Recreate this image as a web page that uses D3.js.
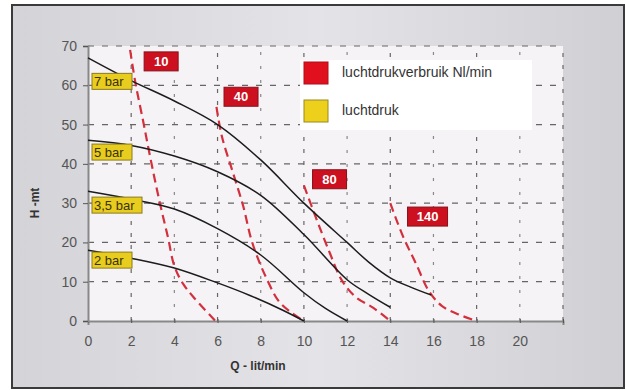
<html>
<head>
<script src="https://d3js.org/d3.v7.min.js"></script>
<style>
  body { margin: 0; background: #fff; }
  text { font-family: "Liberation Sans", Arial, sans-serif; }
</style>
</head>
<body>
<svg id="chart" width="626" height="390"></svg>
<script>
// pump curves: H (mt) against Q (lit/min) per air pressure
const pressureLabels = ['7 bar', '5 bar', '3,5 bar', '2 bar'];
const pressureLabelH = [61, 43, 29.5, 15.5];
const pressureCurves = [
  [[0, 67], [2, 61.2], [4, 56], [6, 50], [8, 41], [10, 30], [12, 20], [13, 15], [14, 11], [15, 8.5], [15.9, 6.6]],
  [[0, 46], [2, 44.7], [4, 42], [6, 38], [8, 32], [10, 22], [12, 10.5], [13, 6.8], [14, 3.5]],
  [[0, 33], [2, 31], [4, 28.5], [6, 23.5], [8, 16.8], [10, 7.2], [11, 3.2], [12, 0]],
  [[0, 18], [2, 16], [4, 13.5], [6, 9.7], [7.5, 6.5], [9, 2.8], [10, 0]]
];

// air consumption lines (Nl/min)
const airLabels = ['10', '40', '80', '140'];
const airCurves = [
  [[1.95, 69], [2.2, 60.5], [2.55, 51], [2.87, 42], [3.33, 30], [3.7, 21.4], [4.0, 14], [4.4, 9.5], [4.9, 6], [5.9, 0]],
  [[5.95, 54.5], [6.2, 47], [6.7, 38], [7.2, 29], [7.55, 21], [7.9, 15.5], [8.3, 10.5], [8.8, 5.3], [9.4, 2.2], [10, 0]],
  [[10, 34.5], [10.6, 25.7], [11.2, 17.3], [11.75, 10.4], [12.4, 6.1], [13.2, 3.4], [14, 0]],
  [[14, 30], [14.6, 21.4], [15.2, 14.5], [15.8, 7.5], [16.4, 3.8], [17.2, 1.6], [17.9, 0.2]]
];
const airLabelPos = [[2.6, 68.5], [6.3, 59.5], [10.4, 38.5], [14.8, 29]];

const xTicks = [0, 2, 4, 6, 8, 10, 12, 14, 16, 18, 20];
const yTicks = [0, 10, 20, 30, 40, 50, 60, 70];
const legendItems = ['luchtdrukverbruik Nl/min', 'luchtdruk'];

const svg = d3.select('#chart');

const defs = svg.append('defs');
const grad = defs.append('linearGradient').attr('id', 'panel').attr('x1', '0').attr('x2', '1');
grad.append('stop').attr('offset', '0').attr('stop-color', '#d4d3d8');
grad.append('stop').attr('offset', '0.5').attr('stop-color', '#e4e3e7');
grad.append('stop').attr('offset', '1').attr('stop-color', '#d0cfd4');

svg.append('rect').attr('x', 12).attr('y', 5).attr('width', 612).attr('height', 383)
  .attr('fill', 'url(#panel)').attr('stroke', '#3a3a3a').attr('stroke-width', 2);

const x = d3.scaleLinear().domain([0, 22]).range([88, 563]);
const y = d3.scaleLinear().domain([0, 70]).range([321, 46]);

svg.append('rect').attr('x', x(0)).attr('y', y(70))
  .attr('width', x(22) - x(0)).attr('height', y(0) - y(70)).attr('fill', '#f6f3f7');

// grid
const gx = d3.range(2, 23, 2);
svg.append('g').selectAll('line').data(gx).join('line')
  .attr('x1', d => x(d)).attr('x2', d => x(d)).attr('y1', y(0)).attr('y2', y(70))
  .attr('stroke', d => d % 4 === 2 ? '#666' : '#888').attr('stroke-width', 1.2)
  .attr('stroke-dasharray', d => d % 4 === 2 ? '4,8' : '3,11');
svg.append('g').selectAll('line').data(yTicks.slice(1)).join('line')
  .attr('x1', x(0)).attr('x2', x(22)).attr('y1', d => y(d)).attr('y2', d => y(d))
  .attr('stroke', '#666').attr('stroke-width', 1.2).attr('stroke-dasharray', '6,8');

// axes
const xAxis = svg.append('g').attr('transform', `translate(0,${y(0)})`)
  .call(d3.axisBottom(x).tickValues(d3.range(0, 23, 2)).tickSize(4).tickFormat(d => xTicks.includes(d) ? d : ''));
xAxis.select('.domain').attr('stroke', '#888').attr('stroke-width', 2);
xAxis.selectAll('.tick line').attr('stroke', '#555').attr('transform', 'translate(0,-2)');
xAxis.selectAll('text').attr('font-size', 14).attr('fill', '#555').attr('dy', '1.3em');

const yAxis = svg.append('g').attr('transform', `translate(${x(0)},0)`)
  .call(d3.axisLeft(y).tickValues(yTicks).tickSize(5).tickPadding(6));
yAxis.select('.domain').attr('stroke', '#888').attr('stroke-width', 2);
yAxis.selectAll('.tick line').attr('stroke', '#555');
yAxis.selectAll('text').attr('font-size', 14).attr('fill', '#555');

svg.append('text').attr('x', 258).attr('y', 370).attr('text-anchor', 'middle')
  .attr('font-size', 12).attr('font-weight', 'bold').attr('fill', '#333').text('Q - lit/min');
svg.append('text').attr('transform', 'translate(39,203) rotate(-90)').attr('text-anchor', 'middle')
  .attr('font-size', 12).attr('font-weight', 'bold').attr('fill', '#333').text('H -mt');

// legend
svg.append('rect').attr('x', 300).attr('y', 60).attr('width', 232).attr('height', 70).attr('fill', '#fff');
const lg = svg.append('g').selectAll('g').data(legendItems).join('g')
  .attr('transform', (d, i) => `translate(304,${62 + i * 38})`);
lg.append('rect').attr('width', 24).attr('height', 22)
  .attr('fill', (d, i) => i === 0 ? '#e0101e' : '#ecd01c')
  .attr('stroke', (d, i) => i === 0 ? '#b01018' : '#9a8a20');
lg.append('text').attr('x', 38).attr('y', 15).attr('font-size', 14).attr('fill', '#333').text(d => d);

const line = d3.line().x(d => x(d[0])).y(d => y(d[1])).curve(d3.curveCatmullRom);

// air consumption dashed lines
svg.append('g').selectAll('path').data(airCurves).join('path')
  .attr('d', line).attr('fill', 'none').attr('stroke', '#d2303c')
  .attr('stroke-width', 2.2).attr('stroke-dasharray', '9,5');

// pressure curves
svg.append('g').selectAll('path').data(pressureCurves).join('path')
  .attr('d', line).attr('fill', 'none').attr('stroke', '#1c1c1c').attr('stroke-width', 1.5);

// red labels
const al = svg.append('g').selectAll('g').data(airLabels).join('g')
  .attr('transform', (d, i) => `translate(${x(airLabelPos[i][0])},${y(airLabelPos[i][1])})`);
al.append('rect').attr('width', d => d.length > 2 ? 40 : 34).attr('height', 19)
  .attr('fill', '#cc1020').attr('stroke', '#8a1018');
al.append('text').attr('x', d => d.length > 2 ? 20 : 17).attr('y', 14).attr('text-anchor', 'middle')
  .attr('font-size', 13).attr('font-weight', 'bold').attr('fill', '#fff').text(d => d);

// yellow labels
const pl = svg.append('g').selectAll('g').data(pressureLabels).join('g')
  .attr('transform', (d, i) => `translate(92,${y(pressureLabelH[i]) - 8})`);
pl.append('rect').attr('width', d => d.length > 5 ? 50 : 40).attr('height', 16)
  .attr('fill', '#e8cc1e').attr('stroke', '#8a7a20');
pl.append('text').attr('x', 2).attr('y', 13).attr('font-size', 13).attr('fill', '#3a3210').text(d => d);
</script>
</body>
</html>
